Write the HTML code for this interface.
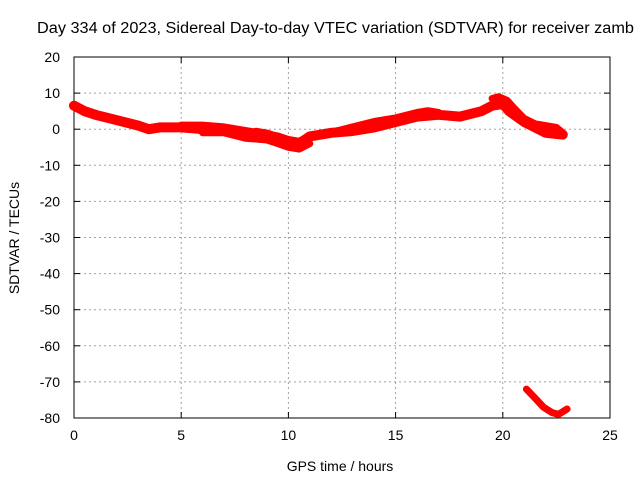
<!DOCTYPE html>
<html><head><meta charset="utf-8"><style>
html,body{margin:0;padding:0;background:#fff;}
svg{display:block;font-family:"Liberation Sans",sans-serif;}
</style></head><body>
<svg id="chart" width="640" height="480" viewBox="0 0 640 480" xmlns="http://www.w3.org/2000/svg">
<text x="37" y="33" font-size="15.5" textLength="597" lengthAdjust="spacingAndGlyphs">Day 334 of 2023, Sidereal Day-to-day VTEC variation (SDTVAR) for receiver zamb</text>
<g id="grid"></g>
<g id="axes"></g>
<g id="series"></g>
<text x="340" y="471" font-size="14" text-anchor="middle">GPS time / hours</text>
<text transform="translate(19,238) rotate(-90)" font-size="14" text-anchor="middle">SDTVAR / TECUs</text>
</svg>
<script>
const xTicks=[0,5,10,15,20,25];
const yTicks=[20,10,0,-10,-20,-30,-40,-50,-60,-70,-80];
const mainT=[0,0.5,1,2,3,3.5,4,5,6,7,8,8.5,9,10,10.5,11,12,13,14,15,16,17,18,19,19.5,20,20.3,21,22,22.8];
const mainV=[6.5,5,4,2.5,1,0,0.5,0.5,0,0,-2,-1,-1.5,-3.5,-4,-2,-1,-0.5,0.5,2,3.5,4,3.5,5,6.5,7,5,2,-1,-1.5];
const upperT=[5,6,7,9.5,10,10.5,11,12,13,14,15,16,16.5,17];
const upperV=[1,1,0.5,-2,-3,-3.5,-2,-1,0.5,2,3,4.5,5,4.5];
const lowerT=[6,7,8,9,9.5,10,10.5,11];
const lowerV=[-1,-1,-2.5,-3,-4,-5,-5.5,-4];
const branchT=[19.5,19.8,20.2,20.5,21,21.5,22,22.5,22.8];
const branchV=[8.5,9,8,6,3,1.5,1,0.5,-1];
const bottomT=[21.1,21.5,21.9,22.3,22.6,23.0];
const bottomV=[-72,-74.5,-77,-78.5,-79,-77.5];
const L=74,R=610,T=57,B=418;
const xs=t=>L+(t-0)/(25-0)*(R-L);
const ys=v=>T+(20-v)/(20-(-80))*(B-T);
const NS="http://www.w3.org/2000/svg";
const grid=document.getElementById('grid'),axes=document.getElementById('axes'),ser=document.getElementById('series');
function mk(tag,attrs,parent){const e=document.createElementNS(NS,tag);for(const k in attrs)e.setAttribute(k,attrs[k]);parent.appendChild(e);return e;}
xTicks.forEach(t=>{
 const x=xs(t);
 if(t>0&&t<25){const g=mk('line',{x1:x,x2:x,y1:T,y2:B,stroke:'#a0a0a0','stroke-dasharray':'2,3'},grid);
 
 }
 const tk=mk('text',{x:x,y:B+22,'font-size':14,'text-anchor':'middle'},axes);tk.textContent=t;
 
 
 mk('line',{x1:x,x2:x,y1:B,y2:B-6,stroke:'#000'},axes);
 mk('line',{x1:x,x2:x,y1:T,y2:T+6,stroke:'#000'},axes);
});
yTicks.forEach(v=>{
 const y=ys(v);
 if(v<20&&v>-80){const g=mk('line',{x1:L,x2:R,y1:y,y2:y,stroke:'#a0a0a0','stroke-dasharray':'2,3'},grid);
 
 }
 const tk=mk('text',{x:L-14,y:y+5,'font-size':14,'text-anchor':'end'},axes);tk.textContent=v;
 
 
 mk('line',{x1:L,x2:L+6,y1:y,y2:y,stroke:'#000'},axes);
 mk('line',{x1:R,x2:R-6,y1:y,y2:y,stroke:'#000'},axes);
});
const frame=mk('rect',{x:L,y:T,width:R-L,height:B-T,fill:'none',stroke:'#000'},axes);


function line(ts,vs,w,name){
 const pts=ts.map((t,i)=>xs(t).toFixed(1)+','+ys(vs[i]).toFixed(1)).join(' ');
 const p=mk('polyline',{points:pts,fill:'none',stroke:'#ff0000','stroke-width':w,'stroke-linejoin':'round','stroke-linecap':'round'},ser);
 
 
}
line(mainT,mainV,10,'sdtvar-main-series');
line(upperT,upperV,8,'sdtvar-upper-series');
line(lowerT,lowerV,7,'sdtvar-lower-series');
line(branchT,branchV,7,'sdtvar-branch-series');
line(bottomT,bottomV,7,'sdtvar-bottom-series');
</script>
</body></html>
